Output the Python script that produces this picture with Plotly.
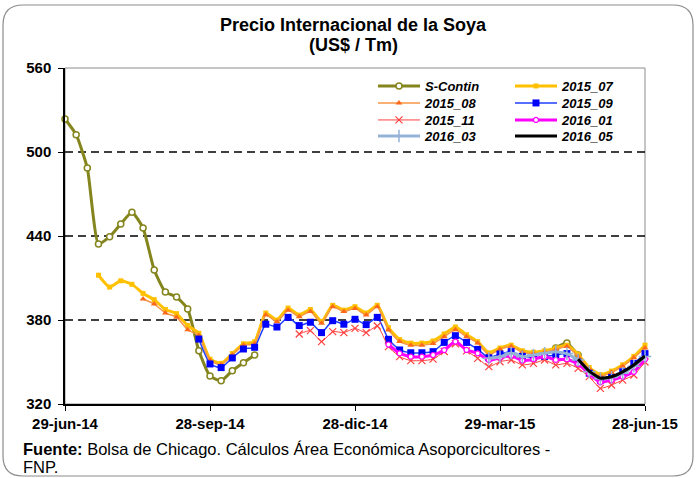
import pandas as pd
import plotly.graph_objects as go

# ---------------- data ----------------
first_week = "2014-06-29"

N = None
s_contin = [523.6, 512.4, 488.6, 434.3, 439.5, 448.6, 457.0, 445.7, 415.7, 400.0,
            396.4, 387.9, 358.0, 340.0, 336.6, 343.8, 349.5, 355.0,
            N, N, N, N, N, N, N, N, N, N, N, N, N, N, N, N, N, N, N, N, N, N, N, N, N, N,
            360.0, 363.5, 355.0]
s_contin_start = "2014-06-29"

c2015_07 = [412.0, 403.5, 408.0, 405.5, 399.0, 394.5, 387.5, 384.5, 376.0, 370.5,
            352.0, 349.0, 356.0, 363.0, 364.5, 385.0, 380.0, 388.5, 383.5, 387.5,
            379.0, 390.5, 387.0, 389.5, 385.0, 390.5, 374.5, 366.0, 363.5, 363.5,
            365.0, 370.0, 375.0, 369.5, 364.5, 356.5, 360.0, 362.0, 358.0, 357.0,
            358.0, 360.0, 362.0, 355.5, 346.0, 341.0, 343.5, 348.0, 354.0, 362.0]
c2015_07_start = "2014-07-20"

c2015_08 = [395.0, 391.4, 385.0, 382.0, 373.0, 369.0, 351.0, 348.0, 355.0, 362.0,
            363.0, 383.6, 378.8, 387.0, 382.4, 386.0, 377.6, 389.5, 386.0, 388.3,
            383.6, 389.5, 372.9, 364.6, 362.0, 362.0, 363.3, 368.0, 373.0, 368.0,
            363.5, 355.0, 359.0, 361.0, 357.0, 356.0, 357.0, 359.0, 361.0, 354.0,
            345.0, 340.0, 342.5, 347.0, 353.0, 360.0]
c2015_08_start = "2014-08-17"

c2015_09 = [366.4, 348.6, 346.0, 352.9, 359.3, 360.5, 377.0, 375.0, 381.9, 376.0,
            378.4, 371.0, 379.5, 377.0, 380.5, 376.7, 381.9, 366.2, 358.6, 356.6,
            356.6, 357.4, 364.0, 368.8, 364.0, 359.0, 353.0, 355.7, 357.4, 354.0,
            353.0, 354.0, 355.0, 356.0, 350.0, 342.0, 337.0, 339.0, 343.0, 349.0,
            356.0]
c2015_09_start = "2014-09-21"

c2015_11 = [370.0, 372.4, 364.6, 371.7, 371.0, 374.0, 371.0, 375.7, 361.0, 353.8,
            351.0, 351.0, 352.0, 357.5, 363.0, 358.0, 352.6, 346.7, 350.2, 351.4,
            347.9, 349.0, 351.4, 347.9, 349.0, 345.5, 339.5, 331.2, 333.6, 337.1,
            340.7, 350.0]
c2015_11_start = "2014-11-23"

c2016_01 = [362.5, 356.2, 353.8, 353.8, 355.0, 358.5, 364.6, 358.6, 356.2, 351.4,
            353.0, 354.5, 351.0, 352.0, 354.0, 351.5, 352.0, 348.5, 341.5, 335.5,
            337.0, 339.5, 343.0, 352.0]
c2016_01_start = "2015-01-18"

c2016_03 = [352.6, 353.8, 356.4, 353.8, 355.0, 356.2, 357.4, 356.0, 351.4, 343.0,
            338.0, 339.0, 342.0, 347.0, 354.0]
c2016_03_start = "2015-03-22"

c2016_05 = [352.0, 343.5, 338.4, 339.5, 343.0, 347.9, 354.3]
c2016_05_start = "2015-05-17"

tick_dates = ["2014-06-29", "2014-09-28", "2014-12-28", "2015-03-29", "2015-06-28"]
tick_text = ["29-jun-14", "28-sep-14", "28-dic-14", "29-mar-15", "28-jun-15"]
y_ticks = [320, 380, 440, 500, 560]
grid_levels = [380, 440, 500]

# ---------------- layout geometry ----------------
W, H = 699, 478
L, R, T, B = 65, 645, 68, 404


def px(x):
    return (x - L) / (R - L)


def py(y):
    return (B - y) / (B - T)


def dates_for(start, values):
    return pd.date_range(start, periods=len(values), freq="7D")


NARROW = "Liberation Sans Narrow, Arial Narrow, Liberation Sans, Arial"
SANS = "Liberation Sans, Arial"

fig = go.Figure()

# (name, start, values, line, marker, legend column px, legend row px)
series = [
    ("S-Contin", s_contin_start, s_contin,
     dict(color="#85851E", width=3),
     dict(symbol="circle", size=6, color="white", line=dict(color="#85851E", width=1.5)),
     378, 86),
    ("2015_07", c2015_07_start, c2015_07,
     dict(color="#FFC000", width=3),
     dict(symbol="square", size=5, color="#FFC000"),
     515, 86),
    ("2015_08", c2015_08_start, c2015_08,
     dict(color="#F79646", width=1.5),
     dict(symbol="triangle-up", size=6, color="#FF6A1A"),
     378, 103),
    ("2015_09", c2015_09_start, c2015_09,
     dict(color="#1F3FFF", width=1.5),
     dict(symbol="square", size=7, color="#0000FF"),
     515, 103),
    ("2015_11", c2015_11_start, c2015_11,
     dict(color="#FF4040", width=1),
     dict(symbol="x-thin", size=7, color="#FF4040", line=dict(color="#FF4040", width=1.2)),
     378, 120),
    ("2016_01", c2016_01_start, c2016_01,
     dict(color="#FF00FF", width=3),
     dict(symbol="circle", size=5, color="white", line=dict(color="#FF00FF", width=1.2)),
     515, 120),
    ("2016_03", c2016_03_start, c2016_03,
     dict(color="#95B3D7", width=3),
     dict(symbol="cross-thin", size=9, color="#95B3D7", line=dict(color="#95B3D7", width=1.5)),
     378, 136),
    ("2016_05", c2016_05_start, c2016_05,
     dict(color="#000000", width=3),
     None,
     515, 136),
]

legend_layouts = {}
for i, (name, start, vals, line, marker, lx, ly) in enumerate(series):
    lid = "legend" if i == 0 else f"legend{i + 1}"
    kw = dict(x=dates_for(start, vals), y=vals, name=name, cliponaxis=False,
              line=dict(shape="spline", smoothing=0.5, **line), connectgaps=False,
              legend=lid)
    if marker is None:
        kw["mode"] = "lines"
    else:
        kw["mode"] = "lines+markers"
        kw["marker"] = marker
    fig.add_trace(go.Scatter(**kw))
    legend_layouts[lid] = dict(
        x=px(lx - 5), y=py(ly), xanchor="left", yanchor="middle",
        orientation="v", bgcolor="rgba(0,0,0,0)", borderwidth=0, itemwidth=42,
        font=dict(family=SANS, size=13, color="black", style="italic", weight="bold"),
    )

shapes = []
# plot area frame (grey)
shapes.append(dict(type="rect", xref="paper", yref="paper", x0=0, x1=1, y0=0, y1=1,
                   line=dict(color="#8C8C8C", width=1), layer="below"))
# dashed gridlines
for g in grid_levels:
    shapes.append(dict(type="line", xref="paper", yref="y", x0=0, x1=1, y0=g, y1=g,
                       line=dict(color="black", width=1.5, dash="8px,5px"), layer="below"))
# outer rounded border
x0b, x1b, y0b, y1b, r = 3, 693, 5, 476, 20
path = (f"M {px(x0b + r)},{py(y0b)} L {px(x1b - r)},{py(y0b)} "
        f"Q {px(x1b)},{py(y0b)} {px(x1b)},{py(y0b + r)} "
        f"L {px(x1b)},{py(y1b - r)} Q {px(x1b)},{py(y1b)} {px(x1b - r)},{py(y1b)} "
        f"L {px(x0b + r)},{py(y1b)} Q {px(x0b)},{py(y1b)} {px(x0b)},{py(y1b - r)} "
        f"L {px(x0b)},{py(y0b + r)} Q {px(x0b)},{py(y0b)} {px(x0b + r)},{py(y0b)} Z")
shapes.append(dict(type="path", xref="paper", yref="paper", path=path,
                   line=dict(color="#8C8C8C", width=1.2), layer="below"))

annotations = [
    dict(text="<b>Precio Internacional de la Soya</b>", x=px(353), y=py(25),
         xref="paper", yref="paper", showarrow=False, xanchor="center", yanchor="middle",
         font=dict(family=NARROW, size=18, color="black")),
    dict(text="<b>(US$ / Tm)</b>", x=px(353), y=py(45),
         xref="paper", yref="paper", showarrow=False, xanchor="center", yanchor="middle",
         font=dict(family=NARROW, size=18, color="black")),
    dict(text="<b>Fuente:</b> Bolsa de Chicago. Cálculos Área Económica Asoporcicultores -",
         x=px(21), y=py(449), xref="paper", yref="paper", showarrow=False,
         xanchor="left", yanchor="middle", align="left",
         font=dict(family=NARROW, size=16.5, color="black")),
    dict(text="FNP.",
         x=px(21), y=py(467), xref="paper", yref="paper", showarrow=False,
         xanchor="left", yanchor="middle", align="left",
         font=dict(family=NARROW, size=16.5, color="black")),
]

fig.update_layout(
    width=W, height=H,
    margin=dict(l=L, r=W - R, t=T, b=H - B),
    paper_bgcolor="white", plot_bgcolor="white",
    showlegend=True,
    shapes=shapes,
    annotations=annotations,
    xaxis=dict(type="date", range=[tick_dates[0], tick_dates[-1]],
               tickvals=tick_dates, ticktext=tick_text,
               showgrid=False, zeroline=False,
               showline=True, linecolor="black", linewidth=1.5,
               ticks="outside", ticklen=5, tickcolor="black", tickwidth=1,
               tickfont=dict(family=NARROW, size=15, color="black", weight="bold")),
    yaxis=dict(range=[320, 560], tickvals=y_ticks,
               showgrid=False, zeroline=False,
               showline=True, linecolor="black", linewidth=1.5,
               ticks="outside", ticklen=5, tickcolor="black", tickwidth=1,
               ticklabelstandoff=4,
               tickfont=dict(family=NARROW, size=15, color="black", weight="bold")),
    **legend_layouts,
)

fig.write_html("out.html", config={"displayModeBar": False},
               post_script="document.body.style.margin='0';")
